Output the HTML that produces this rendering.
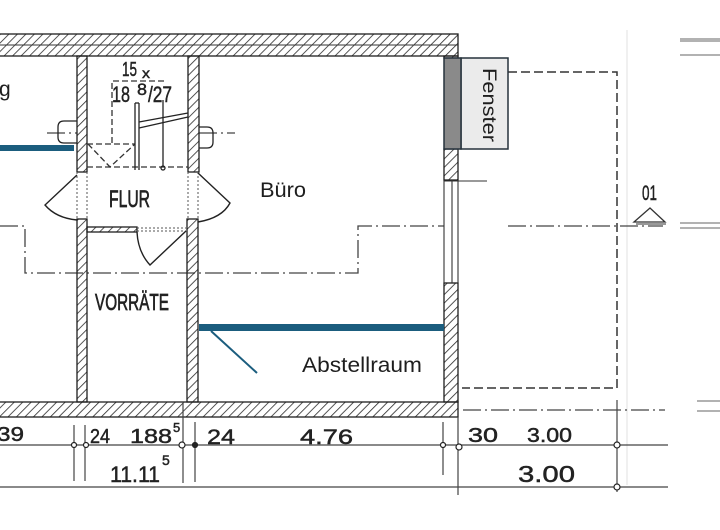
<!DOCTYPE html>
<html>
<head>
<meta charset="utf-8">
<style>
  html,body{margin:0;padding:0;background:#fff;}
  svg{display:block;}
  .t{font-family:"Liberation Sans",sans-serif;fill:#1e1e1e;}
  .h{font-family:"Liberation Sans",sans-serif;fill:#222;stroke:#222;stroke-width:0.45;}
</style>
</head>
<body>
<svg width="720" height="530" viewBox="0 0 720 530" xmlns="http://www.w3.org/2000/svg">
  <defs>
    <pattern id="hat" width="6" height="6" patternUnits="userSpaceOnUse" patternTransform="rotate(45)">
      <line x1="0" y1="0" x2="0" y2="6" stroke="#2a2a2a" stroke-width="1.6"/>
    </pattern>
  </defs>
  <rect width="720" height="530" fill="#fff"/>

  <!-- faint vertical guide -->
  <line x1="627" y1="30" x2="627" y2="485" stroke="#e2e2e2" stroke-width="1"/>

  <!-- dash-dot axis lines -->
  <g fill="none" stroke="#444" stroke-width="1.3" stroke-dasharray="18,4,2,4">
    <polyline points="0,226 25,226 25,273 358,273 358,226 444,226"/>
    <line x1="508" y1="226" x2="663" y2="226"/>
    <line x1="463" y1="410" x2="665" y2="410"/>
    <line x1="47" y1="133" x2="77" y2="133"/>
    <line x1="199" y1="133" x2="235" y2="133"/>
  </g>

  <!-- dashed outline right -->
  <g fill="none" stroke="#333" stroke-width="1.5" stroke-dasharray="9,4">
    <polyline points="508,72 617,72 617,388 462,388"/>
  </g>

  <!-- right edge double lines -->
  <g stroke="#666" stroke-width="1">
    <line x1="680" y1="39" x2="720" y2="39"/><line x1="680" y1="41" x2="720" y2="41"/>
    <line x1="680" y1="55" x2="720" y2="55"/>
    <line x1="680" y1="223" x2="720" y2="223"/><line x1="680" y1="228" x2="720" y2="228"/>
    <line x1="697" y1="401" x2="720" y2="401"/><line x1="697" y1="411" x2="720" y2="411"/>
  </g>

  <!-- walls -->
  <g fill="url(#hat)" stroke="#1e1e1e" stroke-width="1.3">
    <rect x="-2" y="34" width="460" height="22"/>
    <rect x="77" y="56" width="10" height="116"/>
    <rect x="77" y="219" width="10" height="183"/>
    <rect x="188" y="56" width="11" height="116"/>
    <rect x="187" y="219" width="11" height="183"/>
    <rect x="444" y="56" width="14" height="2"/>
    <rect x="444" y="149" width="14" height="31"/>
    <rect x="444" y="283" width="14" height="119"/>
    <rect x="-2" y="402" width="460" height="15"/>
    <rect x="87" y="227" width="50" height="5"/>
  </g>
  <line x1="0" y1="45" x2="458" y2="45" stroke="#333" stroke-width="1"/>

  <!-- window opening lines in right wall -->
  <g stroke="#333" stroke-width="1.1">
    <line x1="444" y1="180" x2="444" y2="283"/>
    <line x1="452" y1="180" x2="452" y2="283"/>
    <line x1="458" y1="180" x2="458" y2="283"/>
    <line x1="444" y1="181" x2="487" y2="181"/>
  </g>

  <!-- dotted lines in flur openings -->
  <g stroke="#555" stroke-width="1" stroke-dasharray="2,2">
    <line x1="77" y1="172" x2="77" y2="219"/>
    <line x1="87" y1="172" x2="87" y2="219"/>
    <line x1="188" y1="172" x2="188" y2="219"/>
    <line x1="198" y1="172" x2="198" y2="219"/>
    <line x1="137" y1="228" x2="186" y2="228"/>
    <line x1="137" y1="231" x2="186" y2="231"/>
  </g>

  <!-- door swings -->
  <g fill="none" stroke="#222" stroke-width="1.4">
    <path d="M77,175 L45,205 Q56,218 77,220"/>
    <path d="M198,173 L230,203 Q222,218 198,222"/>
    <path d="M137,232 Q138,252 150,265 L186,231"/>
  </g>

  <!-- radiator / chimney symbols -->
  <g fill="none" stroke="#222" stroke-width="1.3">
    <path d="M77,121 L64,121 Q58,121 58,127 L58,137 Q58,143 64,143 L77,143"/>
    <path d="M199,127 L207,127 Q213,127 213,133 L213,142 Q213,148 207,148 L199,148"/>
  </g>

  <!-- stair details -->
  <g fill="none" stroke="#333" stroke-width="1.3" stroke-dasharray="6,3">
    <polyline points="112,143 112,81 165,81"/>
    <line x1="87" y1="144" x2="135" y2="144"/>
    <polyline points="88,144 110,167 135,144"/>
    <line x1="87" y1="167" x2="188" y2="167"/>
  </g>
  <g fill="none" stroke="#222" stroke-width="1.3">
    <line x1="135" y1="103" x2="135" y2="170"/>
    <line x1="139" y1="103" x2="139" y2="170"/>
    <line x1="135" y1="103" x2="139" y2="103"/>
    <line x1="139" y1="122" x2="188" y2="113"/>
    <line x1="139" y1="128" x2="188" y2="117"/>
    <line x1="163" y1="100" x2="163" y2="166"/>
    <circle cx="163" cy="168" r="2"/>
  </g>
  <text class="h" x="122" y="76" font-size="20" textLength="15" lengthAdjust="spacingAndGlyphs">15</text>
  <text class="h" x="142" y="78" font-size="14" textLength="8" lengthAdjust="spacingAndGlyphs">x</text>
  <text class="h" x="112" y="102" font-size="22" textLength="18" lengthAdjust="spacingAndGlyphs">18</text>
  <text class="h" x="137" y="95" font-size="17" textLength="10" lengthAdjust="spacingAndGlyphs">8</text>
  <text class="h" x="148" y="102" font-size="22" textLength="24" lengthAdjust="spacingAndGlyphs">/27</text>

  <!-- room labels (plan) -->
  <text class="h" x="109" y="207" font-size="24" textLength="41" lengthAdjust="spacingAndGlyphs" style="stroke-width:0.7">FLUR</text>
  <text class="h" x="95" y="310" font-size="23" textLength="74" lengthAdjust="spacingAndGlyphs" style="stroke-width:0.7">VORRÄTE</text>

  <!-- blue lines -->
  <rect x="0" y="145" width="74" height="6" fill="#1b5d7e"/>
  <rect x="199" y="324" width="245" height="7" fill="#1b5d7e"/>
  <line x1="211" y1="331" x2="257" y2="373" stroke="#1b5d7e" stroke-width="2"/>

  <!-- Fenster box -->
  <rect x="461" y="58" width="47" height="91" fill="#ebebeb" stroke="#26323c" stroke-width="1.5"/>
  <rect x="444" y="58" width="17" height="91" fill="#8a8a8a" stroke="#26323c" stroke-width="1.5"/>
  <text class="t" transform="translate(483,68) rotate(90)" font-size="19" textLength="74" lengthAdjust="spacingAndGlyphs">Fenster</text>

  <!-- labels -->
  <text class="t" x="-1" y="96" font-size="21">g</text>
  <text class="t" x="260" y="197" font-size="21" textLength="46" lengthAdjust="spacingAndGlyphs">Büro</text>
  <text class="t" x="302" y="372" font-size="21" textLength="120" lengthAdjust="spacingAndGlyphs">Abstellraum</text>

  <!-- 01 marker -->
  <text class="h" x="642" y="200" font-size="21" textLength="15" lengthAdjust="spacingAndGlyphs">01</text>
  <path d="M650,208 L634,222 L665,222 Z" fill="none" stroke="#333" stroke-width="1.3"/>
  <line x1="636" y1="224" x2="666" y2="224" stroke="#333" stroke-width="1"/>

  <!-- dimension lines -->
  <g stroke="#444" stroke-width="1.2" fill="none">
    <line x1="0" y1="445" x2="668" y2="445"/>
    <line x1="0" y1="487" x2="668" y2="487"/>
    <line x1="74" y1="425" x2="74" y2="481"/>
    <line x1="85" y1="425" x2="85" y2="481"/>
    <line x1="183" y1="402" x2="183" y2="483"/>
    <line x1="195" y1="422" x2="195" y2="482"/>
    <line x1="443" y1="422" x2="443" y2="475"/>
    <line x1="458" y1="417" x2="458" y2="495"/>
    <line x1="617" y1="400" x2="617" y2="492"/>
  </g>
  <g stroke="#222" stroke-width="1.2" fill="#fff">
    <circle cx="74" cy="445" r="2.5"/>
    <circle cx="86" cy="445" r="2.5"/>
    <circle cx="182" cy="445" r="3"/>
    <circle cx="195" cy="445" r="2.5" fill="#222"/>
    <circle cx="443" cy="445" r="2.5"/>
    <circle cx="459" cy="447" r="3"/>
    <circle cx="617" cy="445" r="3"/>
    <circle cx="617" cy="487" r="3"/>
  </g>

  <!-- dimension texts -->
  <text class="h" x="-3" y="441" font-size="20" textLength="27" lengthAdjust="spacingAndGlyphs">39</text>
  <text class="h" x="90" y="443" font-size="20" textLength="20" lengthAdjust="spacingAndGlyphs">24</text>
  <text class="h" x="130" y="443" font-size="20" textLength="42" lengthAdjust="spacingAndGlyphs">188</text>
  <text class="h" x="173" y="432" font-size="13">5</text>
  <text class="h" x="110" y="482" font-size="22" textLength="50" lengthAdjust="spacingAndGlyphs">11.11</text>
  <text class="h" x="162" y="465" font-size="14">5</text>
  <text class="h" x="207" y="444" font-size="21" textLength="28" lengthAdjust="spacingAndGlyphs">24</text>
  <text class="h" x="300" y="444" font-size="21" textLength="53" lengthAdjust="spacingAndGlyphs">4.76</text>
  <text class="h" x="468" y="442" font-size="20" textLength="30" lengthAdjust="spacingAndGlyphs">30</text>
  <text class="h" x="527" y="442" font-size="20" textLength="45" lengthAdjust="spacingAndGlyphs">3.00</text>
  <text class="h" x="518" y="482" font-size="23" textLength="57" lengthAdjust="spacingAndGlyphs">3.00</text>
</svg>
</body>
</html>
